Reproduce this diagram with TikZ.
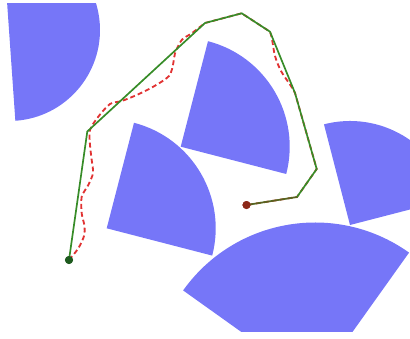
\documentclass[tikz,border=0pt]{standalone}
\usepackage{tikz}
\definecolor{obstacleblue}{RGB}{118,118,248}
\definecolor{pathgreen}{RGB}{55,140,40}
\definecolor{pathred}{RGB}{225,50,50}
\definecolor{startgreen}{RGB}{30,90,30}
\definecolor{goalred}{RGB}{140,40,25}

\begin{document}
\begin{tikzpicture}[x=0.025cm, y=0.025cm,
    obstacle/.style={fill=obstacleblue},
    dot/.style={circle, inner sep=0pt, minimum size=0.2cm}]
  \useasboundingbox (0,0) rectangle (410,338);

  % obstacles (circular sectors)
  \begin{scope}
    \clip (0,7) rectangle (410,335);
    \fill[obstacle] (9,308) -- ++(-86:91) arc[start angle=-86, end angle=94, radius=91] -- cycle;
    \fill[obstacle] (180.7,191.3) -- ++(-14.5:109) arc[start angle=-14.5, end angle=75.5, radius=109] -- cycle;
    \fill[obstacle] (106.7,109.7) -- ++(-14.5:109) arc[start angle=-14.5, end angle=75.5, radius=109] -- cycle;
    \fill[obstacle] (350,113) -- ++(14.5:104) arc[start angle=14.5, end angle=104.5, radius=104] -- cycle;
    \fill[obstacle] (315,-46.5) -- ++(54.5:162) arc[start angle=54.5, end angle=144.5, radius=162] -- cycle;
  \end{scope}

  \node[dot, fill=startgreen] (start) at (69,78) {};
  \node[dot, fill=goalred] (goal) at (246.5,133) {};

  % raw path
  \draw[pathred, line width=1.3pt, dash pattern=on 3.5pt off 2.2pt]
    plot[smooth, tension=0.5] coordinates {(69,78) (78.3,89.7) (84,102) (84.5,112)
      (81.7,124.7) (81.7,141.3) (88.3,153) (93,165) (91.7,178) (90,193) (90,208)
      (98.3,221.3) (110,234) (121.7,237) (136.7,243) (153.3,251.3) (169,262)
      (173.3,274.7) (175,284.7) (181.7,298) (191.7,304.7) (205,315)}
    -- (241.7,324.7) -- (270,306.3)
    -- plot[smooth, tension=0.5] coordinates {(270,306.3) (272,299) (275,282)
      (281,267) (291,252) (295,245)}
    -- (316.7,169) -- (297,141) -- (goal.center);

  % smoothed path
  \draw[pathgreen, line width=1.2pt]
    (start.center) -- (87.3,206.5) -- (205,315) -- (241.7,324.7) -- (270,306.3)
    -- (295,245) -- (316.7,169) -- (297,141) -- (goal.center);
  \draw[goalred, line width=1pt, opacity=0.45] (297,141) -- (goal.center);
  \node[dot, fill=startgreen] at (start) {};
  \node[dot, fill=goalred] at (goal) {};
\end{tikzpicture}
\end{document}
